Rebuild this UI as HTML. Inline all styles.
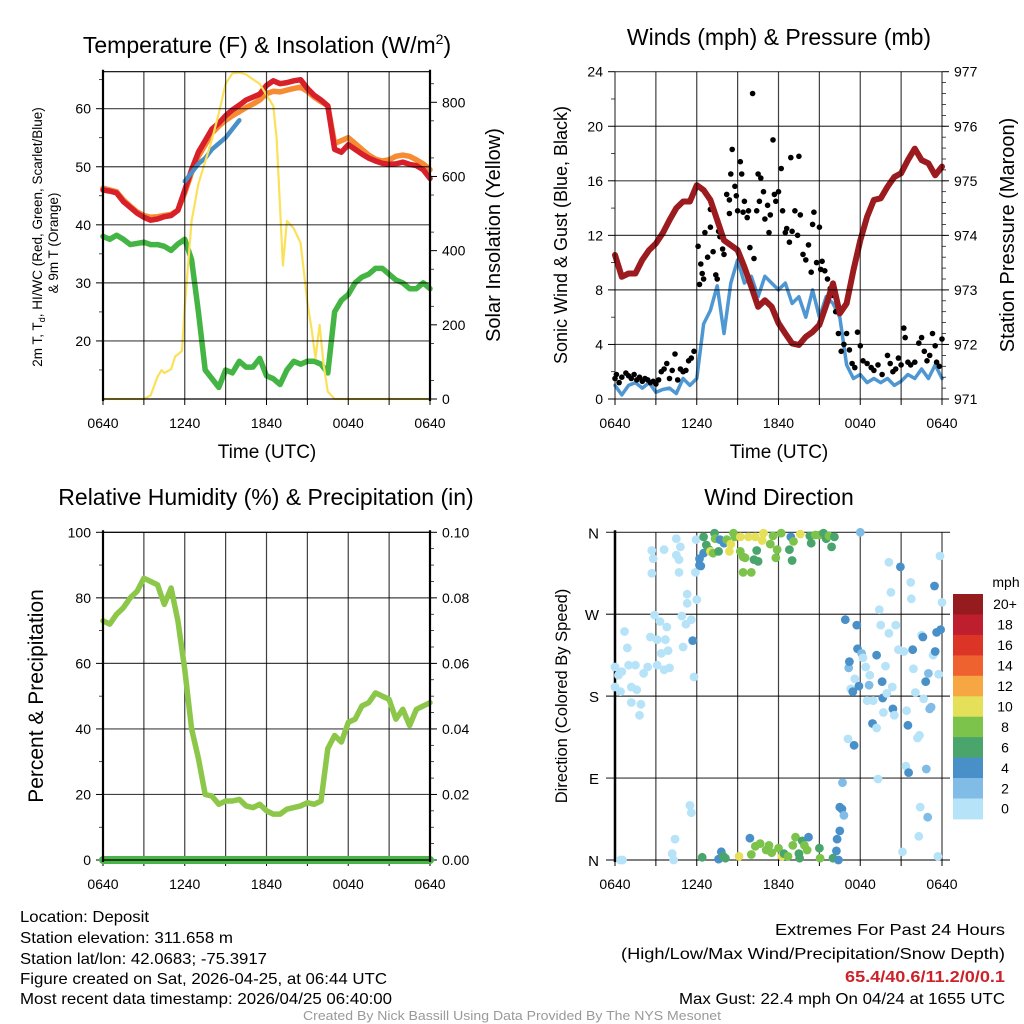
<!DOCTYPE html>
<html><head><meta charset="utf-8">
<style>
html,body{margin:0;padding:0;background:#fff;}
svg{display:block;font-family:"Liberation Sans",sans-serif;}
</style></head>
<body>
<svg id="fig" width="1024" height="1024" viewBox="0 0 1024 1024" xmlns="http://www.w3.org/2000/svg">
<rect width="1024" height="1024" fill="#fff"/>
<text x="267" y="53" font-size="23" text-anchor="middle">Temperature (F) &amp; Insolation (W/m<tspan font-size="14" dy="-9">2</tspan><tspan dy="9">)</tspan></text>
<text x="779" y="45" font-size="23" text-anchor="middle">Winds (mph) &amp; Pressure (mb)</text>
<text x="266" y="505" font-size="23" text-anchor="middle">Relative Humidity (%) &amp; Precipitation (in)</text>
<text x="779" y="505" font-size="23" text-anchor="middle">Wind Direction</text>

<text transform="translate(42,237) rotate(-90)" font-size="13.5" text-anchor="middle">2m T, T<tspan font-size="9" dy="3">d</tspan><tspan dy="-3">, HI/WC (Red, Green, Scarlet/Blue)</tspan></text>
<text transform="translate(58,243) rotate(-90)" font-size="13.5" text-anchor="middle">&amp; 9m T (Orange)</text>
<text transform="translate(500,235) rotate(-90)" font-size="20" text-anchor="middle">Solar Insolation (Yellow)</text>
<text transform="translate(567,235) rotate(-90)" font-size="18" text-anchor="middle">Sonic Wind &amp; Gust (Blue, Black)</text>
<text transform="translate(1014,235) rotate(-90)" font-size="20" text-anchor="middle">Station Pressure (Maroon)</text>
<text transform="translate(43,696) rotate(-90)" font-size="21" text-anchor="middle">Percent &amp; Precipitation</text>
<text transform="translate(567,696) rotate(-90)" font-size="16.5" text-anchor="middle">Direction (Colored By Speed)</text>
<text x="267" y="458" font-size="19" text-anchor="middle">Time (UTC)</text>
<text x="779" y="458" font-size="19" text-anchor="middle">Time (UTC)</text>

<g font-size="16">
<text x="20" y="922" textLength="129" lengthAdjust="spacingAndGlyphs">Location: Deposit</text>
<text x="20" y="943" textLength="213" lengthAdjust="spacingAndGlyphs">Station elevation: 311.658 m</text>
<text x="20" y="964" textLength="247" lengthAdjust="spacingAndGlyphs">Station lat/lon: 42.0683; -75.3917</text>
<text x="20" y="984" textLength="367" lengthAdjust="spacingAndGlyphs">Figure created on Sat, 2026-04-25, at 06:44 UTC</text>
<text x="20" y="1004" textLength="372" lengthAdjust="spacingAndGlyphs">Most recent data timestamp: 2026/04/25 06:40:00</text>
</g>
<g font-size="16" text-anchor="end">
<text x="1005" y="935" textLength="230" lengthAdjust="spacingAndGlyphs">Extremes For Past 24 Hours</text>
<text x="1005" y="959" textLength="384" lengthAdjust="spacingAndGlyphs">(High/Low/Max Wind/Precipitation/Snow Depth)</text>
<text x="1005" y="982" textLength="160" lengthAdjust="spacingAndGlyphs" fill="#cc2229" font-weight="bold">65.4/40.6/11.2/0/0.1</text>
<text x="1005" y="1004" textLength="326" lengthAdjust="spacingAndGlyphs">Max Gust: 22.4 mph On 04/24 at 1655 UTC</text>
</g>
<text x="512" y="1020" font-size="13" fill="#999" text-anchor="middle" textLength="418" lengthAdjust="spacingAndGlyphs">Created By Nick Bassill Using Data Provided By The NYS Mesonet</text>
</svg>
<script>
// ---------- DATA ----------
const halfHours = [0,0.5,1,1.5,2,2.5,3,3.5,4,4.5,5,5.5,6,6.5,7,7.5,8,8.5,9,9.5,10,10.5,11,11.5,12,12.5,13,13.5,14,14.5,15,15.5,16,16.5,17,17.5,18,18.5,19,19.5,20,20.5,21,21.5,22,22.5,23,23.5,24];
const xTickLabels = ["0640","1240","1840","0040","0640"];
const tempRed = [46,45.8,45.5,44,43,42,41.3,40.8,41,41.4,41.6,42.5,46,49.5,52.5,54.5,56.5,57.5,58.8,59.8,60.6,61.5,62,62.5,64,64.8,64.3,64.5,64.8,65,63.5,62.3,61.5,60.5,53,52.5,53.8,53,52.2,51.5,51,50.6,50.4,50.5,50.8,50.4,50.2,49.5,48];
const temp9mOrange = [46.3,46,45.7,44.3,43.2,42.2,41.6,41.3,41.4,41.6,41.8,42.5,45.5,49,51.8,53.8,55.8,57,58,58.8,59.5,60.2,60.8,61.5,62.6,63,62.9,63.2,63.5,63.7,63,62,61.2,60.5,54,54.5,55,54,53,52,51.3,51,51.2,51.8,52,51.8,51.2,50.5,49.5];
const windChillHours = [6,6.5,7,7.5,8,8.5,9,9.5,10];
const windChillBlue = [47.5,49,50.5,51.5,53,54,55,56.5,58];
const dewGreen = [38,37.5,38.2,37.5,36.6,36.8,37,36.6,36.6,36.3,35.6,36.7,37.5,34,25,15,13.5,12,15,14.5,16.5,15.5,15.5,17,14,13.5,12.5,15,16.5,16,16.5,16.5,16,14.5,25,27,28,30,31,31.5,32.5,32.5,31.5,30.5,30,29,29,30,29];
const solarHours = [0,3,3.5,4,4.3,4.5,5,5.3,5.5,5.8,6,6.5,7,7.5,8,8.5,9,9.5,10,10.5,11,11.5,12,12.5,12.75,13.2,13.5,14,14.5,15,15.3,15.6,15.9,16.2,16.5,17,24];
const solarYellow = [0,0,10,60,78,70,80,115,120,130,250,480,580,640,700,770,850,878,880,875,862,850,820,790,700,360,480,460,420,260,190,110,200,90,20,0,0];
const tempTicks = [20,30,40,50,60];
const solarTicks = [0,200,400,600,800];

const windBlue = [1,0.3,1,1.2,0.8,1.2,0.5,0.7,0.8,0.4,1.5,1,1.5,5.5,6.5,8.3,4.8,8.5,10.2,8.5,9,7.5,9,8.5,8,8.5,7,7.5,6,8,6,7.5,7,6,2.5,1.5,1.8,1.2,1.5,1.2,1.5,1,1.3,1.8,1.5,2.2,1.5,2.5,1.5];
const pressureMaroon = [973.64,973.24,973.3,973.3,973.55,973.73,973.85,974.04,974.28,974.5,974.62,974.62,974.92,974.83,974.65,974.28,973.91,973.82,973.73,973.42,973.06,972.69,972.81,972.69,972.39,972.2,972.02,971.99,972.14,972.23,972.36,972.72,973.12,972.57,972.75,973.36,973.91,974.34,974.65,974.68,974.89,975.07,975.14,975.38,975.59,975.38,975.32,975.1,975.26];
const gustHours = [0,0.1,0.3,0.5,0.8,1,1.2,1.4,1.6,1.8,2,2.2,2.4,2.6,2.8,3,3.2,3.4,3.6,3.8,4,4.2,4.4,4.6,4.8,5,5.2,5.4,5.6,5.8,6.1,6.2,6.3,6.4,6.5,6.6,6.8,7,7,7.2,7.4,7.5,7.6,7.7,7.9,8,8.2,8.4,8.4,8.5,8.6,8.8,8.9,9,9.2,9.3,9.4,9.5,9.7,9.8,9.9,10.1,10.2,10.4,10.5,10.6,10.7,10.9,11,11.2,11.3,11.4,11.6,11.7,11.8,12,12.2,12.3,12.5,12.6,12.8,12.9,13,13.2,13.4,13.5,13.6,13.8,14,14.2,14.4,14.5,14.6,14.8,15,15.1,15.2,15.4,15.6,15.8,16,16.2,16.4,16.6,16.8,17,17.2,17.4,17.6,17.8,18,18.2,18.5,18.8,19,19.3,19.6,20,20.2,20.4,20.6,20.8,21,21.2,21.3,21.5,21.7,22,22.3,22.5,22.7,22.9,23.1,23.3,23.5,23.6,23.8,24];
const gustBlack = [1.5,1.8,1.2,1.6,1.9,1.7,1.5,1.8,1.4,1.6,1.3,1.5,1.4,1.2,1.3,1.1,1.4,2,2.2,2.6,1.5,2.1,3.3,1.4,2.2,2,2.1,2.8,3,3.5,11.2,8.4,9.9,9.2,8.8,12.2,10.4,13.9,12.6,10.8,9.1,8.8,12.3,11.9,11,10.6,15,14.6,13.6,16.5,18.3,15.6,14.9,13.8,17.4,16.5,13.7,14.5,13.3,13.8,11.1,22.4,10.3,13.8,16.5,14.5,16.2,15.2,13.2,14.2,12.2,13.5,19,15,14.5,15.2,16.9,13.8,12.2,12.5,11.5,17.7,12.3,13.8,12,17.8,13.5,10.6,10.2,11.3,9.3,12.8,13.7,10,12.6,9.5,10.1,9.4,8.8,8.1,7.6,6.4,4.8,3.5,4,4.8,3.6,2.6,2.3,4.9,3.9,2.8,2.6,2.3,2.1,2.5,1.8,3.2,2.6,2,2.2,3,2.5,5.2,4.5,2.7,2.5,2.7,4.1,4.5,3.5,2.8,3.2,4.8,3.9,2.7,2.4,4.4];
const windTicks = [0,4,8,12,16,20,24];
const pressureTicks = [971,972,973,974,975,976,977];

const rhGreen = [73,72,75,77,80,82,86,85,84,78,83,73,58,40,31,20,19.5,17,18,18,18.5,16.5,16,17,15,14,14,15.5,16,16.5,17.5,17,18,34,38,36,42,43,47,48,51,50,49,43,46,41,46,47,48];
const precipTotal = [0,0,0,0,0,0,0,0,0,0,0,0,0,0,0,0,0,0,0,0,0,0,0,0,0,0,0,0,0,0,0,0,0,0,0,0,0,0,0,0,0,0,0,0,0,0,0,0,0];
const rhTicks = [0,20,40,60,80,100];
const precipTicks = ["0.00","0.02","0.04","0.06","0.08","0.10"];

const dirTicks = ["N","E","S","W","N"];
const dirHours = [0,0.25,0,0.4,0.7,0.9,0.5,1,1.2,1.5,1.6,1.2,1.9,1.8,2.1,2.4,2.6,2.7,2.7,2.8,2.9,3.1,3.1,3.3,3.4,3.6,3.6,3.7,3.8,3.9,4.0,4.5,4.5,4.7,4.7,4.8,4.9,5.0,5.2,5.3,5.3,5.6,5.7,5.8,5.9,6.0,5.95,5.5,5.6,4.4,4.2,4.3,0.4,0.55,
6.2,6.2,6.3,6.5,6.5,6.7,6.9,7.0,7.2,7.3,7.35,7.6,7.7,8.0,8.2,8.4,8.5,8.7,8.8,9.2,9.2,9.4,9.4,9.55,9.8,10.0,10.2,10.3,10.4,10.5,10.8,10.9,11.4,11.6,11.8,11.9,12.2,12.8,12.9,13.0,13.1,13.6,14.3,14.4,14.7,15.0,15.3,15.5,15.7,15.9,16.1,
6.4,7.6,7.8,7.95,8.1,9.1,9.9,10.0,10.3,10.65,11.1,11.3,11.5,12.0,12.25,12.4,12.7,13.05,13.25,13.5,13.55,13.75,13.9,14.1,14.2,15.0,15.05,16.0,16.25,16.3,16.5,16.5,16.65,16.8,16.7,16.4,
16.9,17.1,17.15,17.2,17.3,17.45,17.55,17.6,17.75,17.8,17.9,18.0,18.1,18.2,18.4,18.5,18.65,18.7,18.95,18.9,19.2,19.2,19.3,19.4,19.5,19.6,19.65,19.7,19.85,19.95,20.1,20.1,20.25,20.35,20.4,20.6,20.5,20.8,20.95,21.1,21.2,21.35,21.4,21.55,21.5,21.7,21.75,21.85,21.9,22.05,22.2,22.35,22.3,22.4,22.5,22.6,22.65,22.8,22.85,22.95,23.0,23.1,23.2,23.35,23.45,23.5,23.6,23.7,23.75,23.85,23.9,24];
const dirDegrees = [212,203,190,185,251,233,207,214,190,214,187,173,171,159,205,212,245,315,340,331,269,242,214,262,227,209,341,242,256,230,211,353,335,330,316,344,268,234,259,292,282,264,241,201,316,286,352,60,52,23,7,0,0,0,
331,324,323,337,355,346,341,339,337,359,353,339,352,348,352,339,347,359,355,355,339,333,316,332,355,316,330,355,340,328,351,359,347,356,332,341,359,341,355,329,350,358,356,348,357,357,359,353,356,344,355,
3,1,9,4,2,4,24,6,15,18,11,16,8,13,4,7,4,16,25,7,2,21,16,11,25,13,2,2,10,23,32,58,56,49,85,0,
264,133,211,218,188,185,126,199,258,232,191,360,227,222,212,175,192,203,175,150,225,145,89,275,258,196,178,162,213,183,327,249,294,190,166,258,159,231,322,9,229,103,164,96,148,305,287,231,210,184,134,137,26,58,247,245,177,196,100,47,205,166,168,225,301,229,250,4,204,334,253,283];
const dirSpeeds = [1,1,1,1,1,1,1,1,1,1,1,1,1,1,1,1,1,1,1,1,1,1,1,1,1,1,1,1,1,1,1,1,1,1,1,1,1,1,1,1,1,1,4.5,1,1,1,1,1,1,1,1,1,1,1,
4.5,4.5,4.5,5,7,7,6,10,8,7,9,7,4.5,4,8,10,10,8,8,10,8,8,8,8,10,8,6,10,6,6,10,10,8,8,8,8,8,6,4,6,8,10,6,6,8,8,6,6,8,6,6,
6,4,4.5,6,6,10,4.5,8,8,8,8,8,8,8,10,6,8,8,8,6,6,6,8,8,4.5,6,8,6,4.5,4.5,4,4,4.5,3,3,4.5,
4.5,1,3,4.5,1,4,4,1,4,4,4,3,3,1,1,1,3,1,1,4,4,1,1,1,1,4,4,1,1,1,1,1,1,1,4,1,1,1,4,1,1,1,1,4,4,1,1,4,1,1,1,1,1,1,1,4,1,4,3,3,3,3,3,1,4,4,4,1,1,1,4,1];
const speedLabels = ["20+","18","16","14","12","10","8","6","4","2","0"];
const speedColors = ["#961b1e","#be1e2d","#dc3427","#ee6230","#f6a744","#e5e05a","#7cc34c","#4aa56c","#4a90c8","#80bce5","#b6e3f8"];

// ---------- DRAWING ----------
const NS = "http://www.w3.org/2000/svg";
const svg = document.getElementById("fig");
function mk(tag, attrs, name, parent) {
  const el = document.createElementNS(NS, tag);
  for (const k in attrs) el.setAttribute(k, attrs[k]);
  
  
  (parent || svg).appendChild(el);
  return el;
}
function txt(x, y, s, anchor, size, name, parent) {
  const t = mk("text", {x: x, y: y, "font-size": size, "text-anchor": anchor}, name, parent);
  t.textContent = s;
  return t;
}
const X0 = 103, X1 = 430;
function sx(h) { return X0 + h * (X1 - X0) / 24; }
function linY(y0, y1, v0, v1) { return v => y0 + (v - v0) * (y1 - y0) / (v1 - v0); }

function frame(top, bot, prefix) {
  const g = mk("g", {}, prefix + "-axes");
  for (let i = 0; i <= 8; i++) {
    const x = sx(i * 3);
    mk("line", {x1: x, x2: x, y1: top, y2: bot, stroke: "#000", "stroke-width": 1.2, "stroke-opacity": 0.75}, prefix + "-v-grid", g);
    mk("line", {x1: x, x2: x, y1: bot, y2: bot + 6, stroke: "#000", "stroke-width": 1}, prefix + "-x-tick", g);
  }
  for (let i = 0; i < xTickLabels.length; i++) {
    txt(sx(i * 6), bot + 29, xTickLabels[i], "middle", 14, prefix + "-x-tick-label", g);
  }
  return g;
}
function yAxisLeft(g, ys, vals, labels, top, bot, prefix, minor) {
  for (let i = 0; i < vals.length; i++) {
    const y = ys(vals[i]);
    mk("line", {x1: X0, x2: X1, y1: y, y2: y, stroke: "#000", "stroke-width": 1.2, "stroke-opacity": 0.75}, prefix + "-h-grid", g);
    mk("line", {x1: X0 - 7, x2: X0, y1: y, y2: y, stroke: "#000", "stroke-width": 1}, prefix + "-y-tick", g);
    txt(X0 - 12, y + 5, labels[i], "end", 14, prefix + "-y-tick-label", g);
  }
  for (let i = 0; i < minor.length; i++) {
    const y = ys(minor[i]);
    if (y < top - 0.5 || y > bot + 0.5) continue;
    mk("line", {x1: X0 - 4, x2: X0, y1: y, y2: y, stroke: "#000", "stroke-width": 0.7}, prefix + "-y-minor-tick", g);
  }
}
function yAxisRight(g, ys, vals, labels, top, bot, prefix, minor) {
  for (let i = 0; i < vals.length; i++) {
    const y = ys(vals[i]);
    mk("line", {x1: X1, x2: X1 + 7, y1: y, y2: y, stroke: "#000", "stroke-width": 1}, prefix + "-y2-tick", g);
    txt(X1 + 12, y + 5, labels[i], "start", 14, prefix + "-y2-tick-label", g);
  }
  for (let i = 0; i < minor.length; i++) {
    const y = ys(minor[i]);
    if (y < top - 0.5 || y > bot + 0.5) continue;
    mk("line", {x1: X1, x2: X1 + 4, y1: y, y2: y, stroke: "#000", "stroke-width": 0.7}, prefix + "-y2-minor-tick", g);
  }
}
function border(g, top, bot, prefix) {
  mk("line", {x1: X0, x2: X0, y1: top - 2, y2: bot + 2, stroke: "#000", "stroke-width": 2.2}, prefix + "-left-spine", g);
  mk("line", {x1: X1, x2: X1, y1: top - 2, y2: bot + 2, stroke: "#000", "stroke-width": 2.2}, prefix + "-right-spine", g);
  mk("line", {x1: X0, x2: X1, y1: top, y2: top, stroke: "#000", "stroke-width": 1.2}, prefix + "-top-spine", g);
  mk("line", {x1: X0, x2: X1, y1: bot, y2: bot, stroke: "#000", "stroke-width": 1.2}, prefix + "-bottom-spine", g);
}
function path(xs, vs, sy, dx, name, attrs, parent) {
  let d = "";
  for (let i = 0; i < vs.length; i++) d += (i ? "L" : "M") + (sx(xs[i]) + dx).toFixed(1) + "," + sy(vs[i]).toFixed(1);
  const a = Object.assign({d: d, fill: "none", "stroke-linejoin": "round", "stroke-linecap": "round"}, attrs);
  return mk("path", a, name, parent);
}
function range(a, b, s) { const r = []; for (let v = a; v <= b + 1e-9; v += s) r.push(+v.toFixed(4)); return r; }

// ---- Panel 1: temperature ----
(function () {
  const top = 71.7, bot = 399;
  const ty = linY(bot, 108.7, 10, 60);
  const sy2 = linY(bot, 102.3, 0, 800);
  const g = frame(top, bot, "temp");
  yAxisLeft(g, ty, tempTicks, tempTicks.map(String), top, bot, "temp", range(15, 65, 10));
  yAxisRight(g, sy2, solarTicks, solarTicks.map(String), top, bot, "solar", range(50, 850, 100));
  const s = mk("g", {}, "temp-series");
  path(halfHours, temp9mOrange, ty, 0, "temp-9m-line", {stroke: "#f68b33", "stroke-width": 5.5}, s);
  path(halfHours, tempRed, ty, 0, "temp-2m-line", {stroke: "#d7202a", "stroke-width": 5.5}, s);
  path(windChillHours, windChillBlue, ty, 0, "heat-index-line", {stroke: "#4a90c8", "stroke-width": 4.5}, s);
  path(halfHours, dewGreen, ty, 0, "dewpoint-line", {stroke: "#44b544", "stroke-width": 5.5}, s);
  path(solarHours, solarYellow, sy2, 0, "solar-line", {stroke: "#fbe15a", "stroke-width": 2.2}, s);
  border(g, top, bot, "temp");
  svg.appendChild(g);
})();

// ---- Panel 2: winds & pressure ----
(function () {
  const top = 71.7, bot = 399;
  const wy = linY(bot, top, 0, 24);
  const py = linY(bot, top, 971, 977);
  const g = frame(top, bot, "wind");
  yAxisLeft(g, wy, windTicks, windTicks.map(String), top, bot, "wind", range(2, 22, 4));
  yAxisRight(g, py, pressureTicks, pressureTicks.map(String), top, bot, "pressure", range(971.2, 976.8, 0.2));
  const s = mk("g", {transform: "translate(512,0)"}, "wind-series");
  path(halfHours, windBlue, wy, 0, "sonic-wind-line", {stroke: "#4f97d2", "stroke-width": 3.5}, s);
  for (let i = 0; i < gustHours.length; i++) {
    mk("circle", {cx: sx(gustHours[i]).toFixed(1), cy: wy(gustBlack[i]).toFixed(1), r: 2.8, fill: "#000"}, "gust-point", s);
  }
  path(halfHours, pressureMaroon, py, 0, "pressure-line", {stroke: "#9b1b1f", "stroke-width": 6}, s);
  g.setAttribute("transform", "translate(512,0)");
  svg.appendChild(g);
})();

// ---- Panel 3: RH & precip ----
(function () {
  const top = 532.3, bot = 860;
  const ry = linY(bot, top, 0, 100);
  const qy = linY(bot, top, 0, 0.1);
  const g = frame(top, bot, "rh");
  yAxisLeft(g, ry, rhTicks, rhTicks.map(String), top, bot, "rh", range(10, 90, 20));
  yAxisRight(g, qy, precipTicks.map(Number), precipTicks, top, bot, "precip", range(0.005, 0.095, 0.005));
  path(halfHours, rhGreen, ry, 0, "rh-line", {stroke: "#8cc74a", "stroke-width": 5.5}, g);
  path(halfHours, precipTotal, qy, 0, "precip-line", {stroke: "#4ab449", "stroke-width": 8}, g);
  border(g, top, bot, "rh");
  svg.appendChild(g);
})();

// ---- Panel 4: wind direction ----
(function () {
  const top = 532.3, bot = 860;
  const dy = linY(bot, top, 0, 360);
  const g = mk("g", {transform: "translate(512,0)"}, "direction-axes");
  for (let i = 0; i <= 8; i++) {
    const x = sx(i * 3);
    mk("line", {x1: x, x2: x, y1: top, y2: bot, stroke: "#000", "stroke-width": 1.2, "stroke-opacity": 0.75}, "direction-v-grid", g);
    mk("line", {x1: x, x2: x, y1: bot, y2: bot + 6, stroke: "#000", "stroke-width": 1}, "direction-x-tick", g);
  }
  for (let i = 0; i < xTickLabels.length; i++) txt(sx(i * 6), bot + 29, xTickLabels[i], "middle", 14, "direction-x-tick-label", g);
  for (let i = 0; i < dirTicks.length; i++) {
    const y = dy(i * 90);
    mk("line", {x1: X0 - 9, x2: X1 + 8, y1: y, y2: y, stroke: "#000", "stroke-width": 1.2, "stroke-opacity": 0.8}, "direction-h-grid", g);
    txt(X0 - 16, y + 6, dirTicks[i], "end", 15, "direction-y-tick-label", g);
  }
  mk("line", {x1: X0, x2: X0, y1: top - 2, y2: bot + 2, stroke: "#000", "stroke-width": 2.5}, "direction-left-spine", g);
  for (let i = 0; i < dirHours.length; i++) {
    const ci = 10 - Math.min(10, Math.floor(dirSpeeds[i] / 2));
    mk("circle", {cx: sx(dirHours[i]).toFixed(1), cy: dy(dirDegrees[i]).toFixed(1), r: 4.4, fill: speedColors[ci]}, "direction-point", g);
  }
  svg.appendChild(g);
  const cb = mk("g", {}, "speed-colorbar");
  const cbTop = 594, cbH = 20.45;
  for (let i = 0; i < speedLabels.length; i++) {
    mk("rect", {x: 953, y: (cbTop + i * cbH).toFixed(1), width: 30, height: (cbH + 0.5).toFixed(1), fill: speedColors[i]}, "colorbar-box", cb);
    txt(1005, cbTop + i * cbH + cbH / 2 + 5, speedLabels[i], "middle", 14, "colorbar-label", cb);
  }
  txt(1006, 587, "mph", "middle", 14, "colorbar-title", cb);
})();
</script>
</body></html>
